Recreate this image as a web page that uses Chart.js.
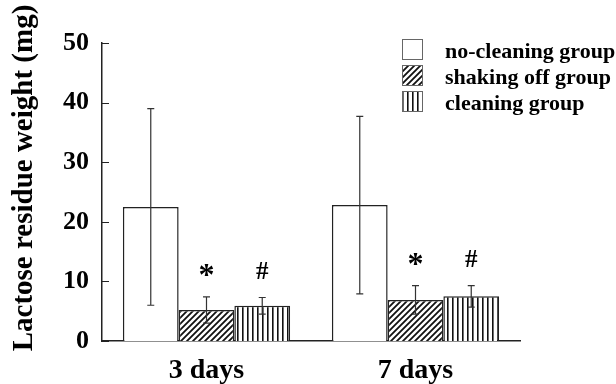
<!DOCTYPE html>
<html>
<head>
<meta charset="utf-8">
<script src="https://cdn.jsdelivr.net/npm/chart.js@4/dist/chart.umd.min.js"></script>
<style>
  html, body { margin: 0; padding: 0; background: #fff; }
  #chart { display: block; }
</style>
</head>
<body>
<canvas id="chart" width="616" height="384"></canvas>
<script>
// data
const categories = ['3 days', '7 days'];
const groupNames = ['no-cleaning group', 'shaking off group', 'cleaning group'];
const noCleaning = [22.5, 22.8];
const noCleaningErr = [16.5, 14.9];
const shakingOff = [5.2, 6.9];
const shakingOffErr = [2.2, 2.4];
const cleaning = [5.9, 7.5];
const cleaningErr = [1.4, 1.8];
const groupMarks = ['', '*', '#'];
const yTicks = [0, 10, 20, 30, 40, 50];

const SERIF = '"Liberation Serif", "Times New Roman", serif';

// hatch patterns
function diagPattern() {
    const c = document.createElement('canvas');
    c.width = 6; c.height = 6;
    const g = c.getContext('2d');
    g.fillStyle = '#fff';
    g.fillRect(0, 0, 6, 6);
    g.strokeStyle = '#111';
    g.lineWidth = 1.8;
    g.beginPath();
    g.moveTo(-1, 7); g.lineTo(7, -1);
    g.moveTo(-4, 4); g.lineTo(4, -4);
    g.moveTo(2, 10); g.lineTo(10, 2);
    g.stroke();
    return g.createPattern(c, 'repeat');
}

function vertPattern() {
    const c = document.createElement('canvas');
    c.width = 5; c.height = 5;
    const g = c.getContext('2d');
    g.fillStyle = '#fff';
    g.fillRect(0, 0, 5, 5);
    g.fillStyle = '#111';
    g.fillRect(2, 0, 1.6, 5);
    return g.createPattern(c, 'repeat');
}

const fills = ['#ffffff', diagPattern(), vertPattern()];
const errors = [noCleaningErr, shakingOffErr, cleaningErr];

// error bars + significance marks
const errorBarPlugin = {
    id: 'errorBars',
    afterDatasetsDraw(chart) {
        const ctx = chart.ctx;
        const y = chart.scales.y;
        chart.data.datasets.forEach((ds, i) => {
            const meta = chart.getDatasetMeta(i);
            meta.data.forEach((bar, j) => {
                const v = ds.data[j];
                const e = errors[i][j];
                const top = y.getPixelForValue(v + e);
                const bot = y.getPixelForValue(v - e);
                ctx.save();
                ctx.strokeStyle = '#333';
                ctx.lineWidth = 1.2;
                ctx.beginPath();
                ctx.moveTo(bar.x, top); ctx.lineTo(bar.x, bot);
                ctx.moveTo(bar.x - 3.5, top); ctx.lineTo(bar.x + 3.5, top);
                ctx.moveTo(bar.x - 3.5, bot); ctx.lineTo(bar.x + 3.5, bot);
                ctx.stroke();

                const mark = groupMarks[i];
                if (mark) {
                    ctx.fillStyle = '#000';
                    ctx.font = (mark === '*' ? 'bold 32px ' : 'bold 25px ') + SERIF;
                    ctx.textAlign = 'center';
                    ctx.textBaseline = 'alphabetic';
                    const m = ctx.measureText(mark);
                    const cy = top - 27;
                    const base = cy + (m.actualBoundingBoxAscent - m.actualBoundingBoxDescent) / 2;
                    ctx.fillText(mark, bar.x, base);
                }
                ctx.restore();
            });
        });
    }
};

// inward y ticks, rotated axis title and legend
const decorPlugin = {
    id: 'decor',
    afterDraw(chart) {
        const ctx = chart.ctx;
        const area = chart.chartArea;
        const y = chart.scales.y;
        ctx.save();
        ctx.strokeStyle = '#222';
        ctx.lineWidth = 1;
        ctx.beginPath();
        yTicks.forEach(t => {
            const py = Math.round(y.getPixelForValue(t)) + 0.5;
            ctx.moveTo(area.left, py);
            ctx.lineTo(area.left + 7, py);
        });
        ctx.stroke();

        // y axis title
        ctx.save();
        ctx.translate(32, 178);
        ctx.rotate(-Math.PI / 2);
        ctx.font = 'bold 29px ' + SERIF;
        ctx.fillStyle = '#000';
        ctx.textAlign = 'center';
        ctx.textBaseline = 'alphabetic';
        ctx.fillText('Lactose residue weight (mg)', 0, 0);
        ctx.restore();

        // legend
        ctx.font = 'bold 22px ' + SERIF;
        ctx.textAlign = 'left';
        ctx.textBaseline = 'alphabetic';
        chart.data.datasets.forEach((ds, i) => {
            const bx = 402, by = 39 + i * 26;
            ctx.fillStyle = ds.backgroundColor;
            ctx.fillRect(bx, by, 20, 20);
            ctx.strokeStyle = '#666';
            ctx.lineWidth = 1;
            ctx.strokeRect(bx + 0.5, by + 0.5, 20, 20);
            ctx.fillStyle = '#000';
            ctx.fillText(ds.label, 445, by + 19);
        });
        ctx.restore();
    }
};

new Chart(document.getElementById('chart'), {
    type: 'bar',
    data: {
        labels: categories,
        datasets: [noCleaning, shakingOff, cleaning].map((vals, i) => ({
            label: groupNames[i],
            data: vals,
            backgroundColor: fills[i],
            borderColor: '#222',
            borderWidth: 1.5,
            categoryPercentage: 0.8,
            barPercentage: 1.0
        }))
    },
    options: {
        responsive: false,
        animation: false,
        events: [],
        layout: { padding: { left: 0, right: 96, top: 43, bottom: 0 } },
        plugins: {
            legend: { display: false },
            tooltip: { enabled: false }
        },
        scales: {
            x: {
                grid: { display: false, drawTicks: false },
                border: { display: true, color: '#222', width: 1.5 },
                ticks: {
                    color: '#000',
                    padding: 13,
                    font: { family: SERIF, size: 28, weight: 'bold' }
                },
                afterFit: s => { s.height = 43; }
            },
            y: {
                min: 0,
                max: 50,
                grid: { display: false, drawTicks: false },
                border: { display: true, color: '#222', width: 1.5 },
                ticks: {
                    stepSize: 10,
                    color: '#000',
                    padding: 13,
                    font: { family: SERIF, size: 26, weight: 'bold' }
                },
                afterFit: s => { s.width = 102; }
            }
        }
    },
    plugins: [errorBarPlugin, decorPlugin]
});
</script>
</body>
</html>
